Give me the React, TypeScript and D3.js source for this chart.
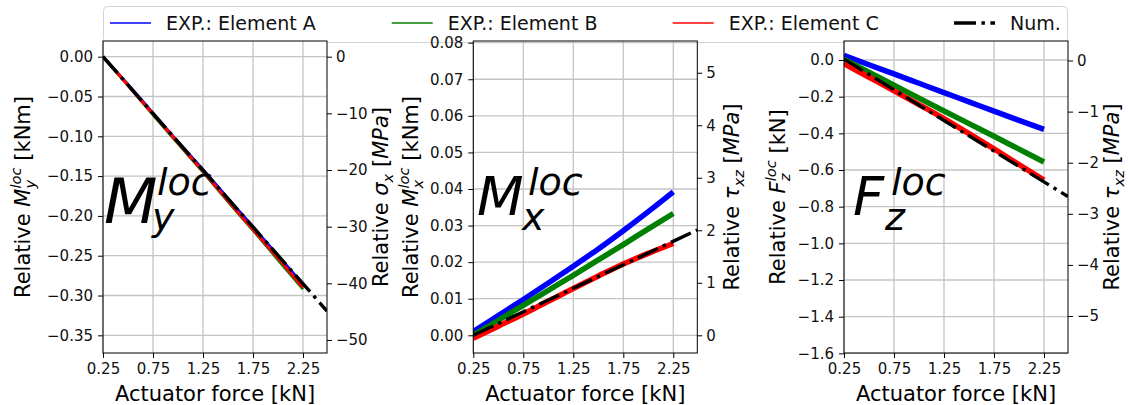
import React, { useEffect, useRef } from "react";
import * as d3 from "d3";

const W = 1128;
const H = 405;

// actuator force samples [kN] where the measured curves were read
const force = [0.25, 0.5, 0.75, 1.0, 1.25, 1.5, 1.75, 2.0, 2.25];
const numForce = [0.25, 2.49];

// panel 1: relative M_y^loc [kNm]
const myElemA = [0, -0.035, -0.071, -0.107, -0.142, -0.178, -0.214, -0.25, -0.286];
const myElemB = [0, -0.036, -0.073, -0.109, -0.145, -0.182, -0.218, -0.255, -0.292];
const myElemC = [0, -0.036, -0.072, -0.108, -0.144, -0.181, -0.217, -0.253, -0.29];
const myNum = [0, -0.3195];

// panel 2: relative M_x^loc [kNm]
const mxElemA = [0.001, 0.0054, 0.0098, 0.0143, 0.0189, 0.0236, 0.0286, 0.0338, 0.0392];
const mxElemB = [0.0, 0.0041, 0.0082, 0.0123, 0.0164, 0.0206, 0.0248, 0.0291, 0.0333];
const mxElemC = [-0.0008, 0.0025, 0.0058, 0.0093, 0.0128, 0.0162, 0.0195, 0.0224, 0.0251];
const mxNum = [0, 0.0288];

// panel 3: relative F_z^loc [kN]
const fzElemA = [0.025, -0.026, -0.076, -0.127, -0.178, -0.228, -0.279, -0.329, -0.378];
const fzElemB = [0.005, -0.066, -0.137, -0.208, -0.278, -0.347, -0.416, -0.486, -0.556];
const fzElemC = [-0.02, -0.094, -0.168, -0.243, -0.32, -0.402, -0.485, -0.57, -0.655];
const fzNum = [0.005, -0.745];

const xTicks = [0.25, 0.75, 1.25, 1.75, 2.25];
const myTicks = [-0.35, -0.3, -0.25, -0.2, -0.15, -0.1, -0.05, 0];
const sigmaTicks = [-50, -40, -30, -20, -10, 0];
const mxTicks = [0, 0.01, 0.02, 0.03, 0.04, 0.05, 0.06, 0.07, 0.08];
const tauTicksMx = [0, 1, 2, 3, 4, 5];
const fzTicks = [-1.6, -1.4, -1.2, -1.0, -0.8, -0.6, -0.4, -0.2, 0];
const tauTicksFz = [-5, -4, -3, -2, -1, 0];

const legendNames = ["EXP.: Element A", "EXP.: Element B", "EXP.: Element C", "Num."];
const colors = ["#0000ff", "#008000", "#ff0000", "#000000"];

const TOP = 41;
const BOTTOM = 353;
const PW = 224;

type Part = [string, string];

const panels = [
  {
    left: 103,
    yDomain: [-0.3722, 0.0197],
    yTicks: myTicks,
    yFmt: ".2f",
    rDomain: [-52.3, 2.77],
    rTicks: sigmaTicks,
    series: [myElemA, myElemB, myElemC],
    num: myNum,
    band: 3,
    leftLabel: [["Relative ", "n"], ["M", "i"], ["y", "sub"], ["loc", "sup"], [" [kNm]", "n"]] as Part[],
    leftX: 22,
    rightLabel: [["Relative ", "n"], ["σ", "i"], ["x", "sub"], [" [", "n"], ["MPa", "i"], ["]", "n"]] as Part[],
    rightX: 380,
    ann: { main: "M", sub: "y", size: 62, mx: 104, my: 223, subX: 152, supX: 157 },
  },
  {
    left: 473.3,
    yDomain: [-0.00484, 0.08046],
    yTicks: mxTicks,
    yFmt: ".2f",
    rDomain: [-0.337, 5.604],
    rTicks: tauTicksMx,
    series: [mxElemA, mxElemB, mxElemC],
    num: mxNum,
    band: 5.5,
    leftLabel: [["Relative ", "n"], ["M", "i"], ["x", "sub"], ["loc", "sup"], [" [kNm]", "n"]] as Part[],
    leftX: 410,
    rightLabel: [["Relative ", "n"], ["τ", "i"], ["xz", "sub"], [" [", "n"], ["MPa", "i"], ["]", "n"]] as Part[],
    rightX: 731.5,
    ann: { main: "M", sub: "x", size: 54, mx: 477, my: 215, subX: 522, supX: 528 },
  },
  {
    left: 844,
    yDomain: [-1.598, 0.1036],
    yTicks: fzTicks,
    yFmt: ".1f",
    rDomain: [-5.724, 0.382],
    rTicks: tauTicksFz,
    series: [fzElemA, fzElemB, fzElemC],
    num: fzNum,
    band: 5.5,
    leftLabel: [["Relative ", "n"], ["F", "i"], ["z", "sub"], ["loc", "sup"], [" [kN]", "n"]] as Part[],
    leftX: 777,
    rightLabel: [["Relative ", "n"], ["τ", "i"], ["xz", "sub"], [" [", "n"], ["MPa", "i"], ["]", "n"]] as Part[],
    rightX: 1111.5,
    ann: { main: "F", sub: "z", size: 54, mx: 853, my: 215, subX: 885, supX: 891 },
  },
];

// writes a label with italic symbols, subscripts and superscripts as tspans
function mathText(text: any, parts: Part[], size: number) {
  let shift = 0;
  let subLen = 0;
  let prevSub = false;
  parts.forEach(([t, kind]) => {
    const ts = text.append("tspan").text(t);
    const target = kind === "sub" ? size * 0.25 : kind === "sup" ? -size * 0.42 : 0;
    const dy = target - shift;
    shift = target;
    if (dy) ts.attr("dy", dy);
    if (kind !== "n") ts.attr("font-style", "italic");
    if (kind === "sub" || kind === "sup") ts.attr("font-size", size * 0.7);
    if (kind === "sup" && prevSub) ts.attr("dx", -subLen);
    if (kind === "sub") {
      subLen = (ts.node() as SVGTSpanElement).getComputedTextLength();
      prevSub = true;
    } else prevSub = false;
  });
}

function Chart() {
  const ref = useRef<SVGSVGElement>(null);

  useEffect(() => {
    document.body.style.margin = "0";
    const svg = d3.select(ref.current);
    svg.selectAll("*").remove();

    // legend box behind the panels
    const leg = svg.append("g");
    leg.append("rect")
      .attr("x", 103.5).attr("y", 6.5).attr("width", 964).attr("height", 36)
      .attr("rx", 4).attr("fill", "#fff").attr("stroke", "#d4d4d4");
    const legX = [110, 391.7, 672.7, 954];
    legendNames.forEach((name, i) => {
      const l = leg.append("line")
        .attr("x1", legX[i]).attr("x2", legX[i] + 41)
        .attr("y1", 23).attr("y2", 23)
        .attr("stroke", colors[i])
        .attr("stroke-width", i === 3 ? 3.4 : 1.5);
      if (i === 3) l.attr("stroke-dasharray", "22,5.5,3.4,5.5");
      leg.append("text")
        .attr("x", legX[i] + 56).attr("y", 29.5)
        .attr("font-size", 19).attr("fill", "#111")
        .text(name);
    });

    panels.forEach((p, pi) => {
      const g = svg.append("g");
      const right = p.left + PW;
      const x = d3.scaleLinear().domain([0.25, 2.49]).range([p.left, right]);
      const y = d3.scaleLinear().domain(p.yDomain).range([BOTTOM, TOP]);
      const yr = d3.scaleLinear().domain(p.rDomain).range([BOTTOM, TOP]);

      g.append("rect").attr("x", p.left).attr("y", TOP).attr("width", PW)
        .attr("height", BOTTOM - TOP).attr("fill", "#fff");

      const clipId = "clip" + pi;
      g.append("clipPath").attr("id", clipId).append("rect")
        .attr("x", p.left).attr("y", TOP).attr("width", PW).attr("height", BOTTOM - TOP);

      // grid
      g.selectAll(".gx").data(xTicks).enter().append("line")
        .attr("x1", d => x(d)).attr("x2", d => x(d))
        .attr("y1", TOP).attr("y2", BOTTOM)
        .attr("stroke", "#c4c4c4").attr("stroke-width", 1.3);
      g.selectAll(".gy").data(p.yTicks).enter().append("line")
        .attr("x1", p.left).attr("x2", right)
        .attr("y1", d => y(d)).attr("y2", d => y(d))
        .attr("stroke", "#c4c4c4").attr("stroke-width", 1.3);

      const plot = g.append("g").attr("clip-path", `url(#${clipId})`);
      const expLine = d3.line<number>()
        .x((_, i) => x(force[i])).y(d => y(d))
        .curve(d3.curveMonotoneX);
      p.series.forEach((s, si) => {
        plot.append("path").attr("d", expLine(s))
          .attr("fill", "none").attr("stroke", colors[si])
          .attr("stroke-width", p.band).attr("stroke-linejoin", "round");
      });
      const numLine = d3.line<number>().x((_, i) => x(numForce[i])).y(d => y(d));
      plot.append("path").attr("d", numLine(p.num))
        .attr("fill", "none").attr("stroke", "#000")
        .attr("stroke-width", 3.4).attr("stroke-dasharray", "22,5.5,3.4,5.5");

      // axes
      const fmtY = d3.format(p.yFmt);
      const fmtR = d3.format("d");
      const fmtX = d3.format(".2f");
      const axisL = g.append("g").attr("transform", `translate(${p.left},0)`)
        .call(d3.axisLeft(y).tickValues(p.yTicks).tickFormat(d => fmtY(d as number)).tickSize(5).tickPadding(5));
      const axisR = g.append("g").attr("transform", `translate(${right},0)`)
        .call(d3.axisRight(yr).tickValues(p.rTicks).tickFormat(d => fmtR(d as number)).tickSize(5).tickPadding(4));
      const axisB = g.append("g").attr("transform", `translate(0,${BOTTOM})`)
        .call(d3.axisBottom(x).tickValues(xTicks).tickFormat(d => fmtX(d as number)).tickSize(5).tickPadding(5));
      [axisL, axisR, axisB].forEach(a => {
        a.select(".domain").remove();
        a.selectAll("text").attr("font-size", 15).attr("font-family", "'DejaVu Sans', sans-serif").attr("fill", "#111");
        a.selectAll("line").attr("stroke", "#000");
      });
      axisB.selectAll("text").attr("dy", "0.75em");

      g.append("rect").attr("x", p.left).attr("y", TOP).attr("width", PW)
        .attr("height", BOTTOM - TOP).attr("fill", "none").attr("stroke", "#000").attr("stroke-width", 1);

      // big annotation
      const a = p.ann;
      g.append("text").attr("x", a.mx).attr("y", a.my)
        .attr("font-size", a.size).attr("font-style", "italic").text(a.main);
      g.append("text").attr("x", a.subX).attr("y", 230)
        .attr("font-size", 38).attr("font-style", "italic").text(a.sub);
      g.append("text").attr("x", a.supX).attr("y", 195)
        .attr("font-size", 38).attr("font-style", "italic").text("loc");

      // axis titles
      g.append("text").attr("x", p.left + PW / 2).attr("y", 400.5)
        .attr("text-anchor", "middle").attr("font-size", 21).text("Actuator force [kN]");
      const lt = g.append("text")
        .attr("transform", `translate(${p.leftX},${(TOP + BOTTOM) / 2}) rotate(-90)`)
        .attr("y", 7.5).attr("text-anchor", "middle").attr("font-size", 21);
      mathText(lt, p.leftLabel, 21);
      const rt = g.append("text")
        .attr("transform", `translate(${p.rightX},${(TOP + BOTTOM) / 2}) rotate(-90)`)
        .attr("y", 7.5).attr("text-anchor", "middle").attr("font-size", 21);
      mathText(rt, p.rightLabel, 21);
    });
  }, []);

  return (
    <svg
      ref={ref}
      width={W}
      height={H}
      style={{ display: "block", fontFamily: "'DejaVu Sans', sans-serif", whiteSpace: "pre", background: "#fff" }}
    />
  );
}

export default function App() {
  return <Chart />;
}
